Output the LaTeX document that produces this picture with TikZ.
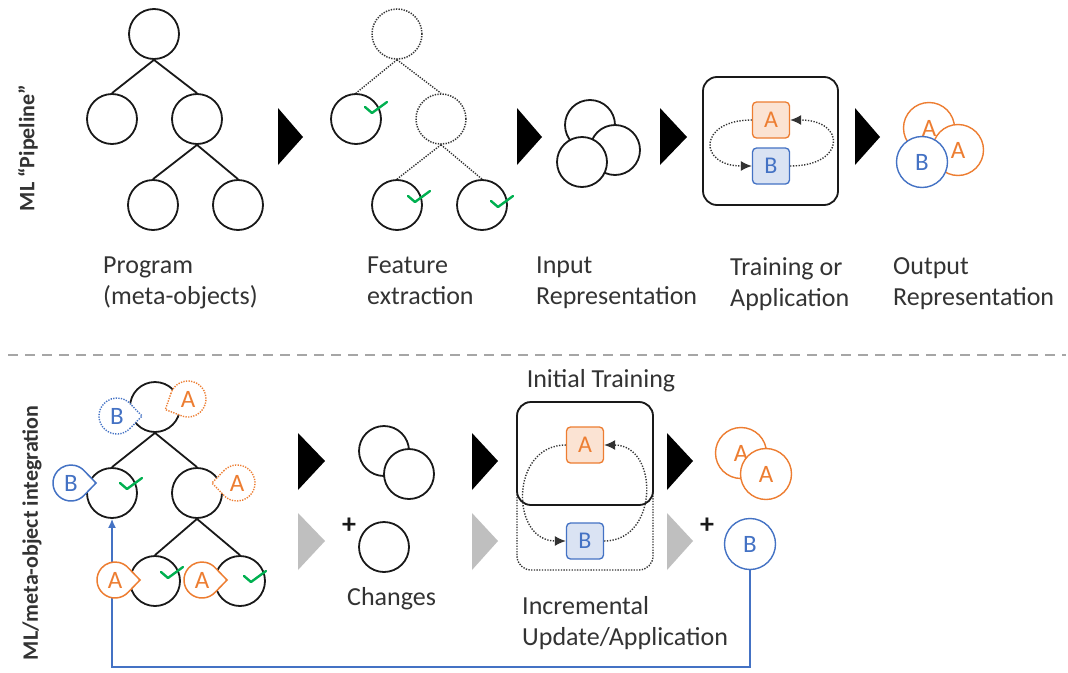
\documentclass[tikz,border=0pt]{standalone}
\usepackage{fontspec}
\setmainfont{Carlito}
\usetikzlibrary{arrows.meta,calc}
\definecolor{myorange}{HTML}{ED7D31}
\definecolor{myblue}{HTML}{4472C4}
\definecolor{lorange}{HTML}{FBE3D3}
\definecolor{lblue}{HTML}{DAE3F3}
\definecolor{mygreen}{HTML}{00B050}
\definecolor{lgray}{HTML}{BFBFBF}
\definecolor{sepgray}{HTML}{A6A6A6}
\definecolor{txt}{HTML}{333333}
\newcommand\chk[2]{\draw[chkline] ({#1-7},{#2-6}) -- (#1,#2) -- ({#1+15},{#2-11});}
% bubble: name, x, y, angle, style, text, text colour
\newcommand\bub[7]{%
  \draw[#5] ($(#2,#3)+({#4+42}:18)$) arc[start angle={#4+42}, end angle={#4+318}, radius=18] -- ($(#2,#3)+(#4:25)$) -- cycle;
  \node[bubtext, text=#7] (#1) at (#2,#3) {#6};}
\begin{document}
\begin{tikzpicture}[x=1pt,y=-1pt,
  mo/.style={circle,draw=black!90,line width=1.8pt,minimum size=50pt,inner sep=0pt,fill=white},
  mod/.style={circle,draw=black!80,line width=1.5pt,dash pattern=on 1.3pt off 1.3pt,minimum size=50pt,inner sep=0pt,fill=white},
  treeedge/.style={line width=1.8pt, draw=black!90},
  treeedged/.style={line width=1.4pt, draw=black!80, dash pattern=on 1.3pt off 1.3pt},
  lbl/.style={anchor=north west, align=left, inner sep=0pt, font=\fontsize{26}{31}\selectfont, text=txt},
  oc/.style={circle,draw=myorange,line width=1.4pt,minimum size=51pt,inner sep=0pt,fill=white,text=myorange,font=\fontsize{25}{25}\selectfont},
  bc/.style={circle,draw=myblue,line width=1.4pt,minimum size=51pt,inner sep=0pt,fill=white,text=myblue,font=\fontsize{25}{25}\selectfont},
  abox/.style={rectangle,rounded corners=4pt,draw=myorange,line width=1.3pt,fill=lorange,text=myorange,minimum width=37pt,minimum height=36pt,inner sep=0pt,font=\fontsize{24}{24}\selectfont},
  bbox/.style={rectangle,rounded corners=4pt,draw=myblue,line width=1.3pt,fill=lblue,text=myblue,minimum width=37pt,minimum height=36pt,inner sep=0pt,font=\fontsize{24}{24}\selectfont},
  loopline/.style={draw=black!80,line width=1.4pt,dash pattern=on 1.3pt off 1.5pt,-{Latex[length=11pt,width=10pt]}},
  chkline/.style={draw=mygreen,line width=2.4pt,line cap=round,line join=round},
  bubtext/.style={inner sep=0pt,font=\fontsize{25}{25}\selectfont},
  bubOd/.style={draw=myorange,line width=1.4pt,dash pattern=on 1.3pt off 1.3pt,fill=white},
  bubBd/.style={draw=myblue,line width=1.4pt,dash pattern=on 1.3pt off 1.3pt,fill=white},
  bubO/.style={draw=myorange,line width=1.5pt,fill=white},
  bubB/.style={draw=myblue,line width=1.5pt,fill=white},
  blktri/.style={fill=black},
  grytri/.style={fill=lgray},
  plussign/.style={inner sep=0pt, font=\bfseries\fontsize{28}{28}\selectfont, text=black!90},
  vlbl/.style={rotate=90,font=\bfseries\fontsize{22}{22}\selectfont,text=txt,inner sep=0pt}
]
\useasboundingbox (0,0) rectangle (1068,672);
\fill[white] (0,0) rectangle (1068,672);

% ---------- side labels ----------
\node[vlbl] (v1) at (28,148) {ML “Pipeline”};
\node[vlbl] (v2) at (32,533) {ML/meta-object integration};

% ---------- top row: program tree ----------
\node[mo] (r1) at (154,34) {};
\node[mo] (r1l) at (112,119) {};
\node[mo] (r1r) at (197,119) {};
\node[mo] (r1rl) at (153,205) {};
\node[mo] (r1rr) at (238,205) {};
\draw[treeedge] (r1.south) -- (r1l.north);
\draw[treeedge] (r1.south) -- (r1r.north);
\draw[treeedge] (r1r.south) -- (r1rl.north);
\draw[treeedge] (r1r.south) -- (r1rr.north);
\node[lbl] (lprog) at (103,257) {Program\\(meta-objects)};

\fill[blktri] (278,108) -- (303,137) -- (278,165) -- cycle;

% ---------- feature extraction ----------
\node[mod] (r2) at (397,34) {};
\node[mo] (r2l) at (356,119) {};
\node[mod] (r2r) at (441,119) {};
\node[mo] (r2rl) at (397,205) {};
\node[mo] (r2rr) at (482,205) {};
\draw[treeedged] (r2.south) -- (r2l.north);
\draw[treeedged] (r2.south) -- (r2r.north);
\draw[treeedged] (r2r.south) -- (r2rl.north);
\draw[treeedged] (r2r.south) -- (r2rr.north);
\chk{372}{113}
\chk{415}{202}
\chk{498}{207}
\node[lbl] (lfeat) at (367,257) {Feature\\extraction};

\fill[blktri] (517,108) -- (542,137) -- (517,165) -- cycle;

% ---------- input representation ----------
\node[mo] (i1) at (590,125) {};
\node[mo] (i2) at (615,150) {};
\node[mo] (i3) at (582,162) {};
\node[lbl] (linput) at (536,257) {Input\\Representation};

\fill[blktri] (660,108) -- (687,137) -- (660,165) -- cycle;

% ---------- training ----------
\draw[line width=1.8pt, draw=black!90, rounded corners=14pt] (703,77) rectangle (838,205);
\node[abox] (tA) at (771,120) {A};
\node[bbox] (tB) at (771,166) {B};
\draw[loopline] (tA.west) .. controls ($(tA.west)+(-54,0)$) and ($(tB.west)+(-54,0)$) .. (tB.west);
\draw[loopline] (tB.east) .. controls ($(tB.east)+(56,0)$) and ($(tA.east)+(56,0)$) .. (tA.east);
\node[lbl] (ltrain) at (730,257) {Training or\\Application};

\fill[blktri] (855,108) -- (880,137) -- (855,165) -- cycle;

% ---------- output representation ----------
\node[oc] (o1) at (929,128) {A};
\node[oc] (o2) at (958,150) {A};
\node[bc] (oB) at (922,162) {B};
\node[lbl] (lout) at (893,257) {Output\\Representation};

% ---------- separator ----------
\draw[sepgray, line width=1.6pt, dash pattern=on 10pt off 7pt] (8,355) -- (1066,355);

% ---------- bottom row: program tree ----------
\node[mo] (b) at (155,407) {};
\node[mo] (bl) at (112,493) {};
\node[mo] (br) at (197,493) {};
\node[mo] (brl) at (155,581) {};
\node[mo] (brr) at (240,581) {};
\draw[treeedge] (b.south) -- (bl.north);
\draw[treeedge] (b.south) -- (br.north);
\draw[treeedge] (br.south) -- (brl.north);
\draw[treeedge] (br.south) -- (brr.north);

% feedback line
\node[bc] (ob) at (750,544) {B};
\draw[myblue, line width=1.5pt, -{Latex[length=9pt,width=8pt]}] (ob.south) -- ++(0,97) -| (bl.south);

\chk{127}{489}
\chk{168}{578}
\chk{251}{582}
\bub{bubB1}{117}{416}{0}{bubBd}{B}{myblue}
\bub{bubA1}{188}{399}{155}{bubOd}{A}{myorange}
\bub{bubB2}{71}{483}{0}{bubB}{B}{myblue}
\bub{bubA2}{237}{483}{180}{bubOd}{A}{myorange}
\bub{bubA3}{115}{580}{0}{bubO}{A}{myorange}
\bub{bubA4}{202}{580}{0}{bubO}{A}{myorange}

\fill[blktri] (298,433) -- (325,461) -- (298,490) -- cycle;
\fill[grytri] (298,513) -- (325,541) -- (298,570) -- cycle;

% ---------- changes ----------
\node[mo] (c1) at (384,451) {};
\node[mo] (c2) at (409,474) {};
\node[mo] (c3) at (384,547) {};
\node[plussign] (plus1) at (349,526) {+};
\node[lbl] (lchg) at (347,587) {Changes};

\fill[blktri] (472,433) -- (498,461) -- (472,490) -- cycle;
\fill[grytri] (472,513) -- (498,541) -- (472,570) -- cycle;

% ---------- incremental training ----------
\draw[line width=1.4pt, draw=black!80, dash pattern=on 1.3pt off 1.4pt, rounded corners=14pt] (517,402) rectangle (653,570);
\draw[line width=1.8pt, draw=black!90, rounded corners=14pt] (517,402) rectangle (653,505);
\node[abox] (bA) at (585,445) {A};
\node[bbox] (bB) at (585,541) {B};
\draw[loopline] (bA.west) .. controls ($(bA.west)+(-56,0)$) and ($(bB.west)+(-56,0)$) .. (bB.west);
\draw[loopline] (bB.east) .. controls ($(bB.east)+(55,0)$) and ($(bA.east)+(55,0)$) .. (bA.east);
\node[inner sep=0pt, font=\fontsize{26}{26}\selectfont, text=txt] (linit) at (601,381) {Initial Training};
\node[lbl] (linc) at (522,596) {Incremental\\Update/Application};

\fill[blktri] (667,433) -- (693,461) -- (667,490) -- cycle;
\fill[grytri] (667,513) -- (693,541) -- (667,570) -- cycle;

% ---------- bottom output ----------
\node[oc] (oa1) at (741,453) {A};
\node[oc] (oa2) at (766,474) {A};
\node[plussign] (plus2) at (707,526) {+};
\end{tikzpicture}
\end{document}
